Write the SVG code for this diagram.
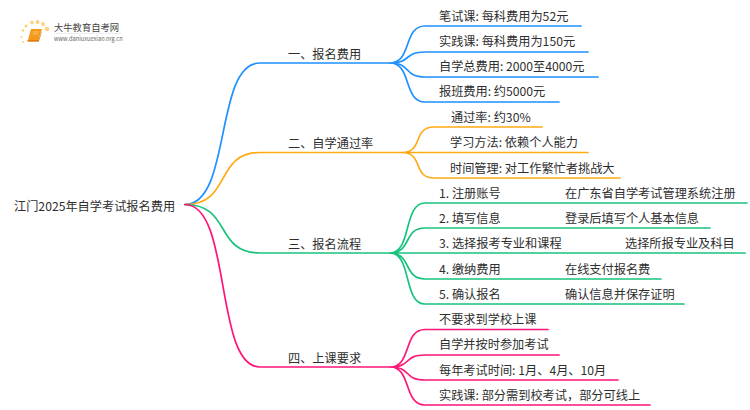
<svg xmlns="http://www.w3.org/2000/svg" width="750" height="410" viewBox="0 0 750 410">
<style>
text{font-family:"Noto Sans CJK SC","Noto Sans",sans-serif;font-size:12.2px;fill:#2e2e2e}
.c{fill:none;stroke-width:1.7;stroke-linecap:round}
.b{stroke:#1e90ff}.o{stroke:#ffaa14}.g{stroke:#19c37d}.p{stroke:#ff1478}
</style>
<rect width="750" height="410" fill="#fff"/>
<g id="logo">
<g fill="#ffd27a"><circle cx="47" cy="29" r="2.300"/><circle cx="43" cy="24" r="1.900"/><circle cx="37.500" cy="22" r="1.900"/><circle cx="32" cy="22.500" r="1.800"/><circle cx="26" cy="26" r="1.600"/><circle cx="23" cy="30.500" r="1.300"/><circle cx="21.500" cy="37" r="1.100"/><circle cx="23" cy="42" r="1"/></g>
<path d="M31 29L42 29L38.500 40L28 40Z" fill="#f5981c"/>
<path d="M28 40L38.500 40L41.500 31.500L41.500 33L38.800 41.800L28.500 41.800C27 41.800 27 40 28 40Z" fill="#e07c14"/>
<path d="M33 32H39M32.500 34H38.500" stroke="#ffd68a" stroke-width=".7"/>
<text x="54" y="31" style="font-size:9.300px;fill:#444">大牛教育自考网</text>
<path d="M54 33.300H121" stroke="#ddd" stroke-width=".6"/>
<text x="54" y="40.500" style="font-size:5.700px;fill:#666">www.daniuxuexiao.org.cn</text>
</g>
<g id="connectors">
<path class="c b" d="M185 204.500C232 204.500 214 63 260 63H390"/>
<path class="c o" d="M185 204.500C232 204.500 214 152.500 260 152.500H402"/>
<path class="c g" d="M185 204.500C232 204.500 214 253 260 253H390"/>
<path class="c p" d="M185 204.500C232 204.500 214 367 260 367H390"/>
<path class="c b" d="M390 63C412 63 403 26 425 26H581M390 63C412 63 403 52 425 52H588M390 63C412 63 403 77 425 77H598M390 63C412 63 403 102 425 102H559"/>
<path class="c o" d="M402 152.500C424 152.500 412 127 434 127H542M402 152.500H588M402 152.500C424 152.500 412 178 434 178H620"/>
<path class="c g" d="M390 253C412 253 403 203 425 203H747M390 253C412 253 403 228 425 228H710M390 253H745M390 253C412 253 403 279 425 279H661M390 253C412 253 403 304 425 304H684"/>
<path class="c p" d="M390 367C412 367 403 329.500 425 329.500H548M390 367C412 367 403 355 425 355H559M390 367C412 367 403 380 425 380H618M390 367C412 367 403 405 425 405H650"/>
</g>
<g id="root"><text x="14" y="210.500">江门2025年自学考试报名费用</text></g>
<g id="n1"><text x="288" y="59">一、报名费用</text></g>
<g id="n2"><text x="288" y="148">二、自学通过率</text></g>
<g id="n3"><text x="288" y="249">三、报名流程</text></g>
<g id="n4"><text x="288" y="363">四、上课要求</text></g>
<g id="n1-1"><text x="439" y="21">笔试课: 每科费用为52元</text></g>
<g id="n1-2"><text x="439" y="46">实践课: 每科费用为150元</text></g>
<g id="n1-3"><text x="439" y="71">自学总费用: 2000至4000元</text></g>
<g id="n1-4"><text x="439" y="96">报班费用: 约5000元</text></g>
<g id="n2-1"><text x="451" y="122">通过率: 约30%</text></g>
<g id="n2-2"><text x="450" y="147">学习方法: 依赖个人能力</text></g>
<g id="n2-3"><text x="450" y="173">时间管理: 对工作繁忙者挑战大</text></g>
<g id="n3-1"><text x="439" y="198">1. 注册账号</text><text x="565" y="198">在广东省自学考试管理系统注册</text></g>
<g id="n3-2"><text x="439" y="223">2. 填写信息</text><text x="565" y="223">登录后填写个人基本信息</text></g>
<g id="n3-3"><text x="439" y="248">3. 选择报考专业和课程</text><text x="625" y="248">选择所报专业及科目</text></g>
<g id="n3-4"><text x="439" y="274">4. 缴纳费用</text><text x="565" y="274">在线支付报名费</text></g>
<g id="n3-5"><text x="439" y="299">5. 确认报名</text><text x="565" y="299">确认信息并保存证明</text></g>
<g id="n4-1"><text x="439" y="324">不要求到学校上课</text></g>
<g id="n4-2"><text x="439" y="349">自学并按时参加考试</text></g>
<g id="n4-3"><text x="439" y="375">每年考试时间: 1月、4月、10月</text></g>
<g id="n4-4"><text x="439" y="400">实践课: 部分需到校考试，部分可线上</text></g>
</svg>
